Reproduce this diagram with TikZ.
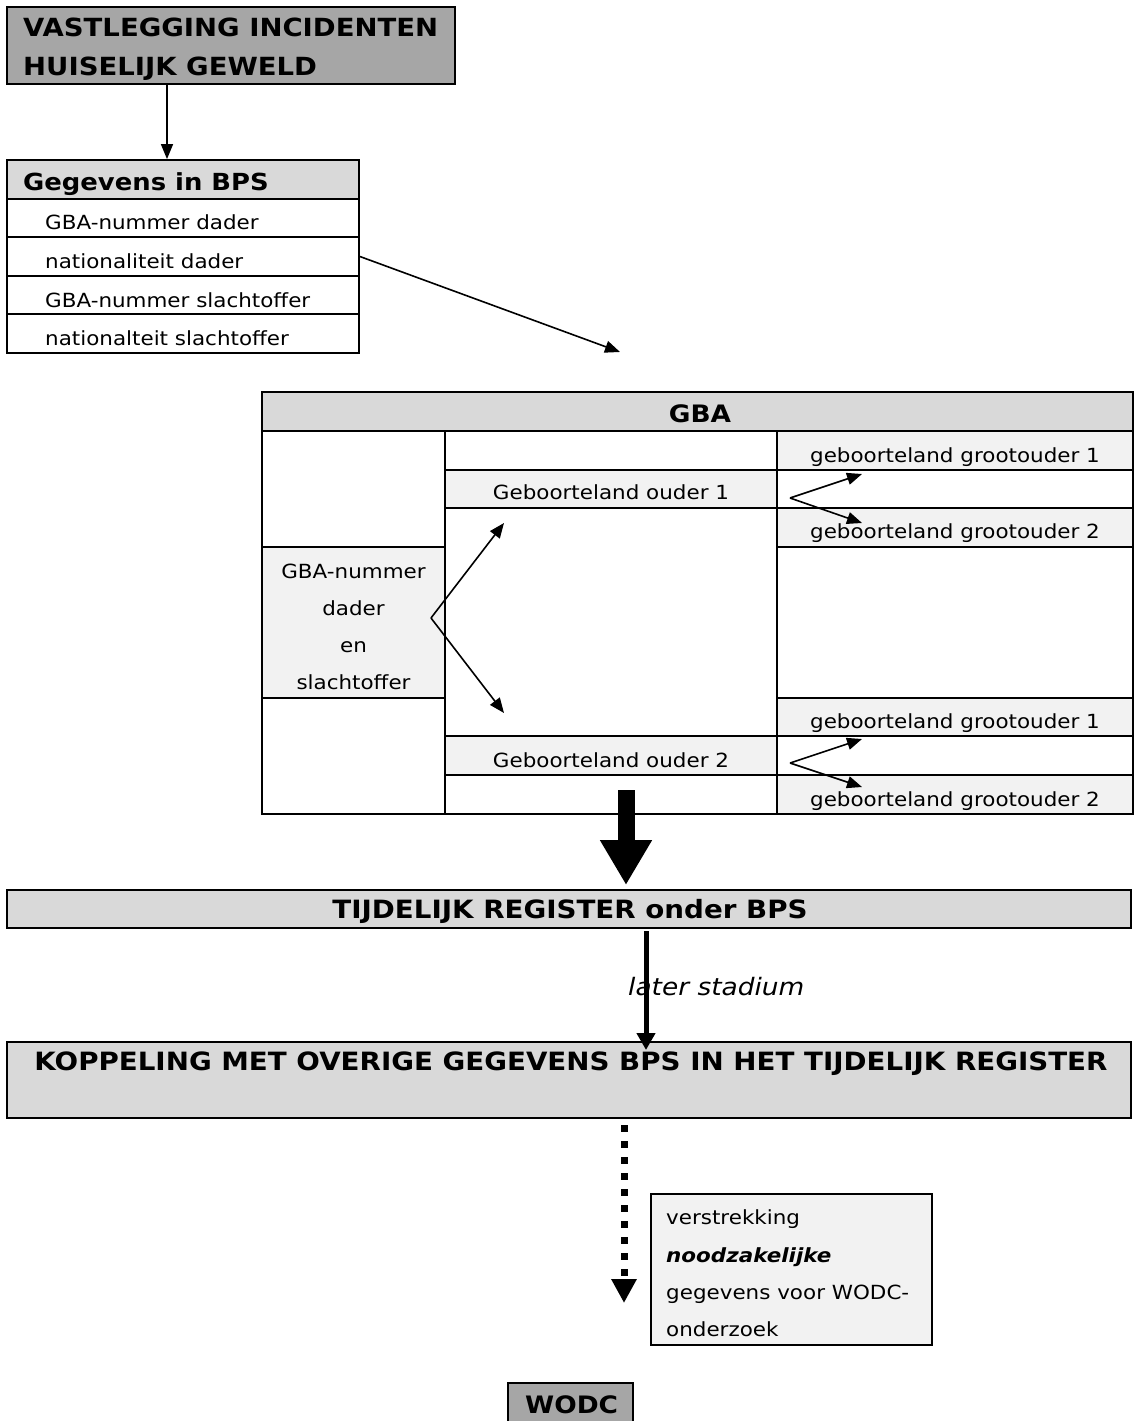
\documentclass[tikz,border=0pt]{standalone}
\usepackage{fontspec}
\setmainfont{DejaVu Sans}[FakeStretch=1.1]
\usetikzlibrary{arrows.meta,fit}
\definecolor{darkfill}{HTML}{A6A6A6}
\definecolor{midfill}{HTML}{D9D9D9}
\definecolor{lightfill}{HTML}{F2F2F2}
\newcommand{\smalltxt}{\fontsize{19.5}{23}\selectfont}
\newcommand{\bigtxt}{\fontsize{24}{28}\selectfont\bfseries}
\newcommand{\widetxt}{\fontsize{25.2}{29}\selectfont\bfseries}
\newcommand{\titletxt}{\fontsize{25}{29}\selectfont\bfseries}
\begin{document}
\begin{tikzpicture}[x=1pt,y=-1pt,
  box/.style={draw,line width=1.8pt,inner sep=0pt},
  txt/.style={inner sep=0pt,font=\smalltxt},
  btxt/.style={inner sep=0pt,font=\bigtxt},
  wtxt/.style={inner sep=0pt,font=\widetxt},
  thinarrow/.style={line width=1.6pt,-{Triangle[width=12pt,length=15pt]}},
  medarrow/.style={line width=5pt,-{Triangle[width=18pt,length=17pt]}},
  thickarrow/.style={line width=17pt,-{Triangle[width=49pt,length=45pt]}},
  dotarrow/.style={line width=7pt,dash pattern=on 7pt off 9pt,-{Triangle[width=24pt,length=24pt]}}]
\useasboundingbox (0,0) rectangle (1134,1421);
\begin{scope}
\clip (0,0) rectangle (1134,1421);

% title
\node[box,fill=darkfill,fit={(7,7) (455,84)}] (title) {};
\node[inner sep=0pt,font=\titletxt,anchor=base west] (title1) at (23,37) {VASTLEGGING INCIDENTEN};
\node[inner sep=0pt,font=\titletxt,anchor=base west] (title2) at (23,75) {HUISELIJK GEWELD};

% BPS table
\node[box,fill=midfill,fit={(7,160) (359,199)}] (bpshead) {};
\node[inner sep=0pt,font=\fontsize{23.5}{28}\selectfont\bfseries,anchor=base west] (bpsheadt) at (23,190) {Gegevens in BPS};
\node[box,fit={(7,199) (359,237)}] (bps1) {};
\node[box,fit={(7,237) (359,276)}] (bps2) {};
\node[box,fit={(7,276) (359,314)}] (bps3) {};
\node[box,fit={(7,314) (359,353)}] (bps4) {};
\node[txt,anchor=base west] (bps1t) at (45,229) {GBA-nummer dader};
\node[txt,anchor=base west] (bps2t) at (45,268) {nationaliteit dader};
\node[txt,anchor=base west] (bps3t) at (45,307) {GBA-nummer slachtoffer};
\node[txt,anchor=base west] (bps4t) at (45,345) {nationalteit slachtoffer};

\draw[thinarrow] (title.south -| 167,0) -- (bpshead.north -| 167,0);
\coordinate (gbatip) at (620,352);
\draw[thinarrow] (bps2.east) -- (gbatip);

% GBA table
\node[box,fill=midfill,fit={(262,392) (1133,431)}] (gbahead) {};
\node[btxt,anchor=base] (gbaheadt) at (700,422) {GBA};
% column 1
\node[box,fit={(262,431) (445,547)}] (c1a) {};
\node[box,fill=lightfill,fit={(262,547) (445,698)}] (c1b) {};
\node[box,fit={(262,698) (445,814)}] (c1c) {};
% column 2
\node[box,fit={(445,431) (777,470)}] (c2a) {};
\node[box,fill=lightfill,fit={(445,470) (777,508)}] (c2b) {};
\node[box,fit={(445,508) (777,736)}] (c2c) {};
\node[box,fill=lightfill,fit={(445,736) (777,775)}] (c2d) {};
\node[box,fit={(445,775) (777,814)}] (c2e) {};
% column 3
\node[box,fill=lightfill,fit={(777,431) (1133,470)}] (c3a) {};
\node[box,fit={(777,470) (1133,508)}] (c3b) {};
\node[box,fill=lightfill,fit={(777,508) (1133,547)}] (c3c) {};
\node[box,fit={(777,547) (1133,698)}] (c3d) {};
\node[box,fill=lightfill,fit={(777,698) (1133,736)}] (c3e) {};
\node[box,fit={(777,736) (1133,775)}] (c3f) {};
\node[box,fill=lightfill,fit={(777,775) (1133,814)}] (c3g) {};

\node[txt,anchor=base] (c1t1) at (353.5,578) {GBA-nummer};
\node[txt,anchor=base] (c1t2) at (353.5,615) {dader};
\node[txt,anchor=base] (c1t3) at (353.5,652) {en};
\node[txt,anchor=base] (c1t4) at (353.5,689) {slachtoffer};
\node[txt,anchor=base] (c2bt) at (611,499) {Geboorteland ouder 1};
\node[txt,anchor=base] (c2dt) at (611,767) {Geboorteland ouder 2};
\node[txt,anchor=base] (c3at) at (955,462) {geboorteland grootouder 1};
\node[txt,anchor=base] (c3ct) at (955,538) {geboorteland grootouder 2};
\node[txt,anchor=base] (c3et) at (955,728) {geboorteland grootouder 1};
\node[txt,anchor=base] (c3gt) at (955,806) {geboorteland grootouder 2};

% fork arrows
\coordinate (fork) at (431,618);
\coordinate (forkup) at (504,523);
\coordinate (forkdown) at (504,713);
\draw[thinarrow] (fork) -- (forkup);
\draw[thinarrow] (fork) -- (forkdown);
\coordinate (forka) at (790,498);
\coordinate (forkaup) at (862,474);
\coordinate (forkadown) at (862,523);
\draw[thinarrow] (forka) -- (forkaup);
\draw[thinarrow] (forka) -- (forkadown);
\coordinate (forkb) at (790,763);
\coordinate (forkbup) at (862,739);
\coordinate (forkbdown) at (862,787);
\draw[thinarrow] (forkb) -- (forkbup);
\draw[thinarrow] (forkb) -- (forkbdown);

% lower boxes
\node[box,fill=midfill,fit={(7,890) (1131,928)}] (tijd) {};
\node[wtxt,anchor=base] (tijdt) at (570,918) {TIJDELIJK REGISTER onder BPS};
\node[box,fill=midfill,fit={(7,1042) (1131,1118)}] (kop) {};
\node[wtxt,anchor=base] (kopt) at (571,1070) {KOPPELING MET OVERIGE GEGEVENS BPS IN HET TIJDELIJK REGISTER};

\coordinate (thickstart) at (626,790);
\draw[thickarrow] (thickstart) -- (626,885);

\coordinate (medstart) at (646,931);
\draw[medarrow] (medstart) -- (646,1050);
\node[inner sep=0pt,font=\fontsize{24}{28}\selectfont\itshape,anchor=base west] (later) at (628,995) {later stadium};

\coordinate (dotstart) at (624,1125);
\draw[dotarrow] (dotstart) -- (624,1303);

\node[box,fill=lightfill,fit={(651,1194) (932,1345)}] (verstr) {};
\node[txt,anchor=base west] (v1) at (666,1224) {verstrekking};
\node[txt,anchor=base west] (v2) at (666,1262) {\bfseries\itshape noodzakelijke};
\node[txt,anchor=base west] (v3) at (666,1299) {gegevens voor WODC-};
\node[txt,anchor=base west] (v4) at (666,1336) {onderzoek};

\node[box,fill=darkfill,fit={(508,1383) (633,1440)}] (wodc) {};
\node[btxt,anchor=base west] (wodct) at (525,1413) {WODC};
\end{scope}
\end{tikzpicture}
\end{document}
